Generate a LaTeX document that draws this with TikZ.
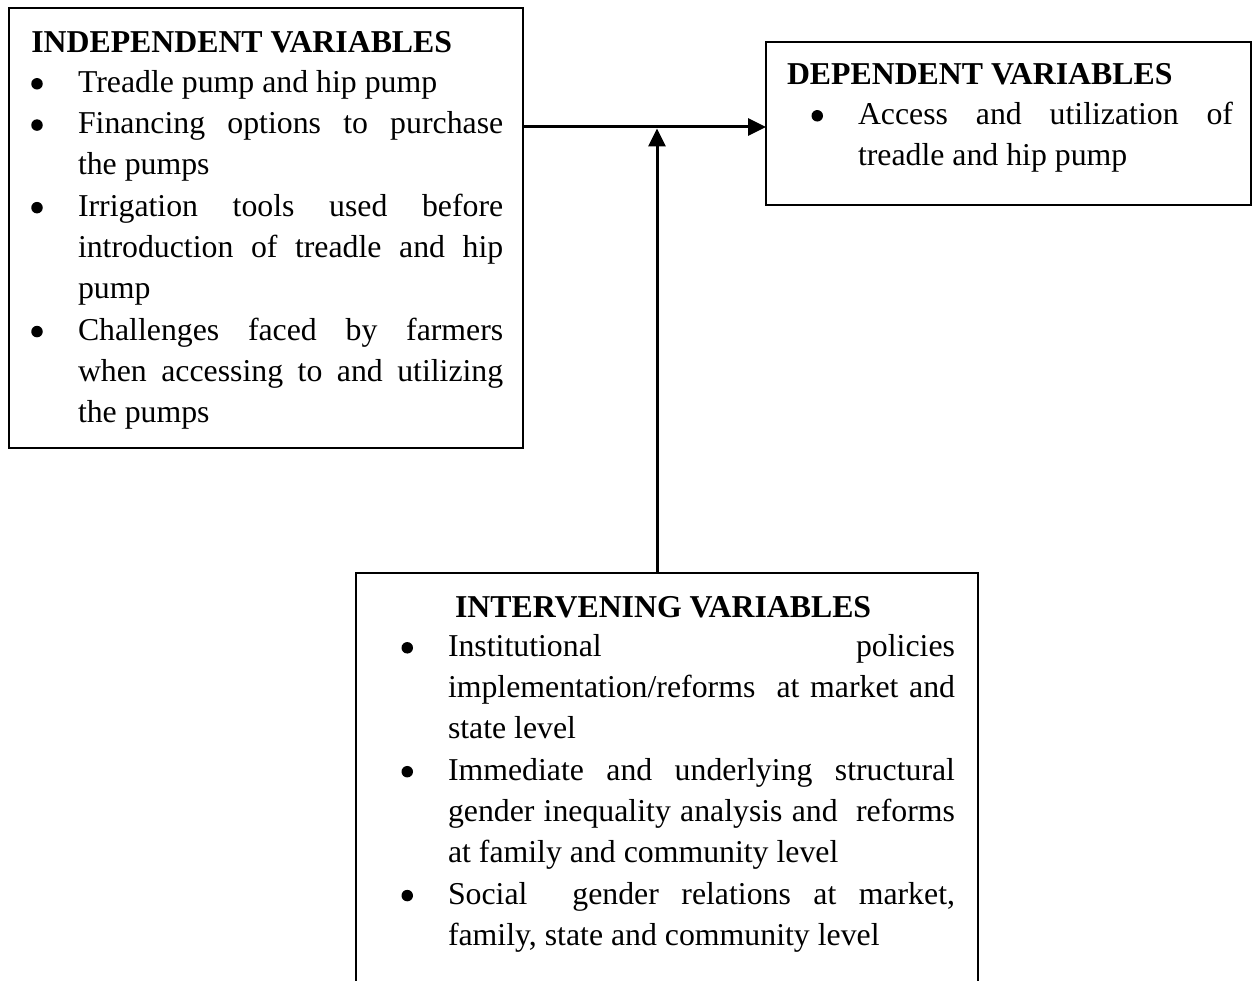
\documentclass[tikz,border=0pt]{standalone}
\usepackage{fontspec}
\setmainfont{Liberation Serif}
\usetikzlibrary{arrows.meta}
\newcommand\mybul{\tikz[baseline=0pt]\fill (5.75pt,8.5pt) circle[radius=5.75pt];}
\newcommand\bitem[2]{\noindent\llap{\makebox[#1][l]{\hspace*{#2}\mybul}}}
\newcommand\parsetup{\tolerance=10000 \hyphenpenalty=10000 \exhyphenpenalty=10000 \hbadness=10000 \emergencystretch=0pt}
\begin{document}
\begin{tikzpicture}[x=1pt,y=-1pt,
  box/.style={draw,line width=2pt,inner sep=0pt,outer sep=0pt},
  txt/.style={inner sep=0pt,outer sep=0pt,anchor=base west,align=justify,font=\fontsize{31.8pt}{41.3pt}\selectfont},
  arr/.style={line width=3pt,-{Triangle[length=18pt,width=17pt]}}]
\useasboundingbox[fill=white] (0,0) rectangle (1259,981);
% boxes
\node[box,minimum width=514pt,minimum height=440pt] (ind) at (266,228) {};
\node[box,minimum width=485pt,minimum height=163pt] (dep) at (1008.5,123.5) {};
\node[box,minimum width=622pt,minimum height=427pt] (int) at (667,786.5) {};
% texts
\node[txt,text width=472pt] (indt) at (31.25,53) {\parsetup
\textbf{INDEPENDENT VARIABLES}\par\vspace{-2pt}
\leftskip=46.75pt
\bitem{46.75pt}{0pt}Treadle pump and hip pump\par
\bitem{46.75pt}{0pt}Financing options to purchase\linebreak the pumps\par
\bitem{46.75pt}{0pt}Irrigation tools used before\linebreak introduction of treadle and hip\linebreak pump\par
\bitem{46.75pt}{0pt}Challenges faced by farmers\linebreak when accessing to and utilizing\linebreak the pumps\par};
\node[txt,text width=446pt] (dept) at (787,85) {\parsetup
\textbf{DEPENDENT VARIABLES}\par\vspace{-2pt}
\leftskip=71pt
\bitem{71pt}{24.5pt}Access and utilization of\linebreak treadle and hip pump\par};
\node[txt,text width=553.5pt] (intt) at (401.5,617) {\parsetup
\hspace*{53.5pt}\textbf{INTERVENING VARIABLES}\par\vspace{-2pt}
\leftskip=46.5pt
\bitem{46.5pt}{0pt}Institutional policies\linebreak implementation/reforms \ at market and\linebreak state level\par
\bitem{46.5pt}{0pt}Immediate and underlying structural\linebreak gender inequality analysis and \ reforms\linebreak at family and community level\par
\bitem{46.5pt}{0pt}Social \ gender relations at market,\linebreak family, state and community level\par};
% connectors
\coordinate (hy) at (0,127);
\coordinate (vx) at (657,0);
\coordinate (vtip) at (657,128.5);
\draw[arr] (ind.east |- hy) -- (dep.west |- hy);
\draw[arr] (int.north -| vx) -- (vtip);
\end{tikzpicture}
\end{document}
